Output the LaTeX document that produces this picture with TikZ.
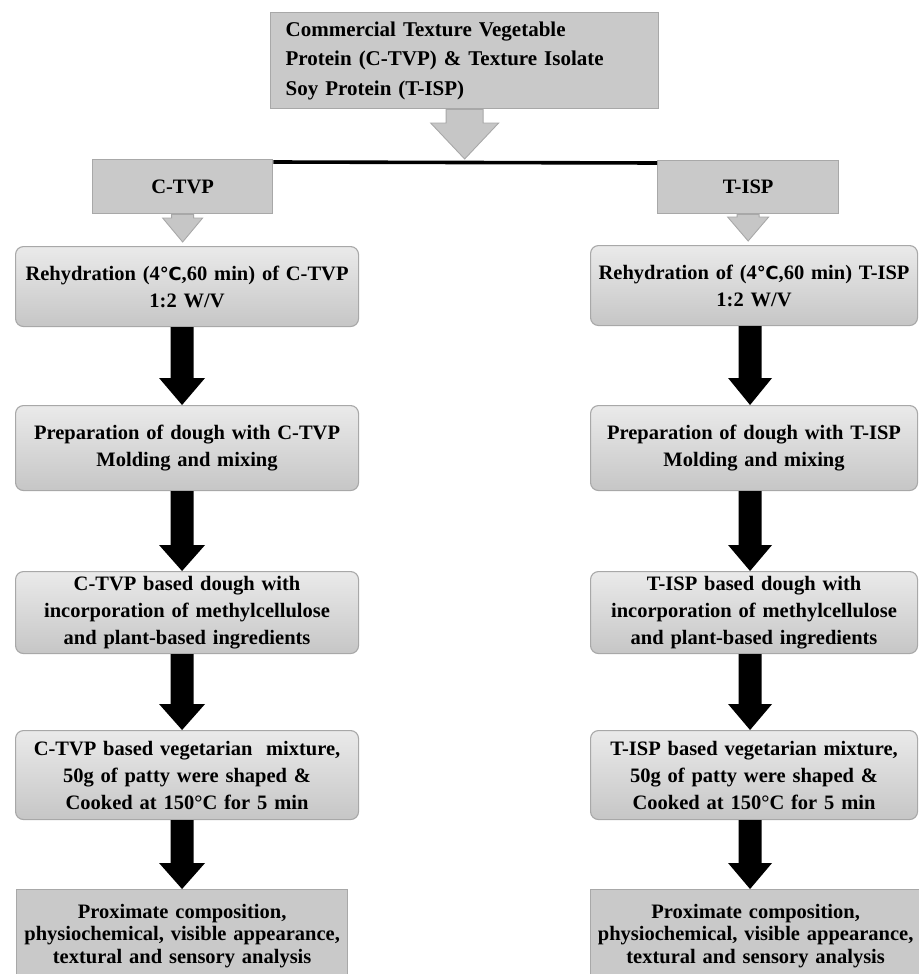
\documentclass[tikz,border=0pt]{standalone}
\usepackage{fontspec}
\setmainfont{Liberation Serif}
\newfontfamily\degfont{DejaVu Sans}
\usetikzlibrary{calc}
\definecolor{boxgray}{RGB}{201,201,201}
\definecolor{edgegray}{RGB}{168,168,168}
\definecolor{shadetop}{RGB}{234,234,234}
\definecolor{shadebot}{RGB}{198,198,198}
\definecolor{arrgray}{RGB}{198,198,198}
\newcommand{\dc}{{\degfont\fontsize{18}{27}\selectfont ℃}}
% #1 style, #2 source point, #3 target point, #4 shaft half width, #5 head half width, #6 head length
\newcommand{\blkarrow}[6]{\path[#1] let \p1=(#2), \p2=(#3) in
  (\x1-#4,\y1) -- (\x1+#4,\y1) -- (\x1+#4,\y2+#6) -- (\x1+#5,\y2+#6) -- (\x1,\y2)
  -- (\x1-#5,\y2+#6) -- (\x1-#4,\y2+#6) -- cycle;}
\tikzset{
  txt/.style={font=\fontsize{20.5}{27}\selectfont\bfseries, align=center},
  topbox/.style={draw=edgegray, fill=boxgray, line width=1.3pt, anchor=north west,
    font=\fontsize{21}{29.5}\selectfont\bfseries, align=left, inner sep=0pt},
  labbox/.style={draw=edgegray, fill=boxgray, line width=1.3pt, anchor=north west, txt, inner sep=0pt},
  stepbox/.style={draw=edgegray, top color=shadetop, bottom color=shadebot, rounded corners=8pt,
    line width=1.1pt, anchor=north west, txt, inner sep=0pt},
  endbox/.style={draw=edgegray, fill=boxgray, line width=1.3pt, anchor=north west,
    font=\fontsize{20.5}{22.5}\selectfont\bfseries, align=center, inner sep=0pt},
  grayarrow/.style={draw=edgegray, fill=arrgray, line width=0.9pt, line join=miter},
  blackarrow/.style={fill=black},
}
\begin{document}
\begin{tikzpicture}[x=1pt,y=-1pt]
\useasboundingbox (0,0) rectangle (918,974);

% source box
\node[topbox, minimum width=388, minimum height=96, text width=372] (src) at (270,12)
  {\hspace*{7pt}Commercial Texture Vegetable\\\hspace*{7pt}Protein (C-TVP) \& Texture Isolate\\\hspace*{7pt}Soy Protein (T-ISP)};

% branch boxes
\node[labbox, minimum width=180, minimum height=54] (ctvp) at (92,159) {C-TVP};
\node[labbox, minimum width=181, minimum height=53] (tisp) at (657,160) {T-ISP};
\coordinate (split) at (464,159);

\draw[line width=3.6pt] ([yshift=-3pt]ctvp.north east) -- ([yshift=-3pt]tisp.north west);
\blkarrow{grayarrow}{src.south}{split}{18.5pt}{34pt}{36pt}

% left column
\node[stepbox, minimum width=343, minimum height=80, text width=337] (l1) at (15,246)
  {Rehydration (4\dc,60 min) of C-TVP\\1:2 W/V};
\node[stepbox, minimum width=343, minimum height=85, text width=337] (l2) at (15,405)
  {Preparation of dough with C-TVP\\Molding and mixing};
\node[stepbox, minimum width=343, minimum height=82, text width=337] (l3) at (15,571)
  {C-TVP based dough with\\incorporation of methylcellulose\\and plant-based ingredients};
\node[stepbox, minimum width=343, minimum height=89, text width=337] (l4) at (15,730)
  {C-TVP based vegetarian\ \ mixture,\\50g of patty were shaped \&\\Cooked at 150°C for 5 min};
\node[endbox, minimum width=331, minimum height=92, text width=329] (l5) at (16,889)
  {Proximate composition,\\physiochemical, visible appearance,\\textural and sensory analysis};

% right column
\node[stepbox, minimum width=327, minimum height=80, text width=323] (r1) at (590,245)
  {Rehydration of (4\dc,60 min) T-ISP\\1:2 W/V};
\node[stepbox, minimum width=327, minimum height=85, text width=323] (r2) at (590,405)
  {Preparation of dough with T-ISP\\Molding and mixing};
\node[stepbox, minimum width=327, minimum height=82, text width=323] (r3) at (590,571)
  {T-ISP based dough with\\incorporation of methylcellulose\\and plant-based ingredients};
\node[stepbox, minimum width=327, minimum height=89, text width=323] (r4) at (590,730)
  {T-ISP based vegetarian mixture,\\50g of patty were shaped \&\\Cooked at 150°C for 5 min};
\node[endbox, minimum width=330, minimum height=92, text width=326] (r5) at (590,889)
  {Proximate composition,\\physiochemical, visible appearance,\\textural and sensory analysis};

% gray arrows under branch boxes
\blkarrow{grayarrow}{ctvp.south}{[yshift=4pt]l1.north}{11pt}{20pt}{24pt}
\blkarrow{grayarrow}{tisp.south}{[yshift=4pt]r1.north}{11pt}{20.5pt}{24pt}

% black arrows
\blkarrow{blackarrow}{[xshift=-5pt]l1.south}{l2.north}{11.5pt}{23pt}{27pt}
\blkarrow{blackarrow}{[xshift=-5pt]l2.south}{l3.north}{11.5pt}{23pt}{26pt}
\blkarrow{blackarrow}{[xshift=-5pt]l3.south}{l4.north}{11.5pt}{23pt}{26pt}
\blkarrow{blackarrow}{[xshift=-5pt]l4.south}{l5.north}{11.5pt}{23pt}{26pt}
\blkarrow{blackarrow}{[xshift=-4pt]r1.south}{r2.north}{11.5pt}{22pt}{27pt}
\blkarrow{blackarrow}{[xshift=-4pt]r2.south}{r3.north}{11.5pt}{22pt}{26pt}
\blkarrow{blackarrow}{[xshift=-4pt]r3.south}{r4.north}{11.5pt}{22pt}{26pt}
\blkarrow{blackarrow}{[xshift=-4pt]r4.south}{r5.north}{11.5pt}{22pt}{26pt}
\end{tikzpicture}
\end{document}
